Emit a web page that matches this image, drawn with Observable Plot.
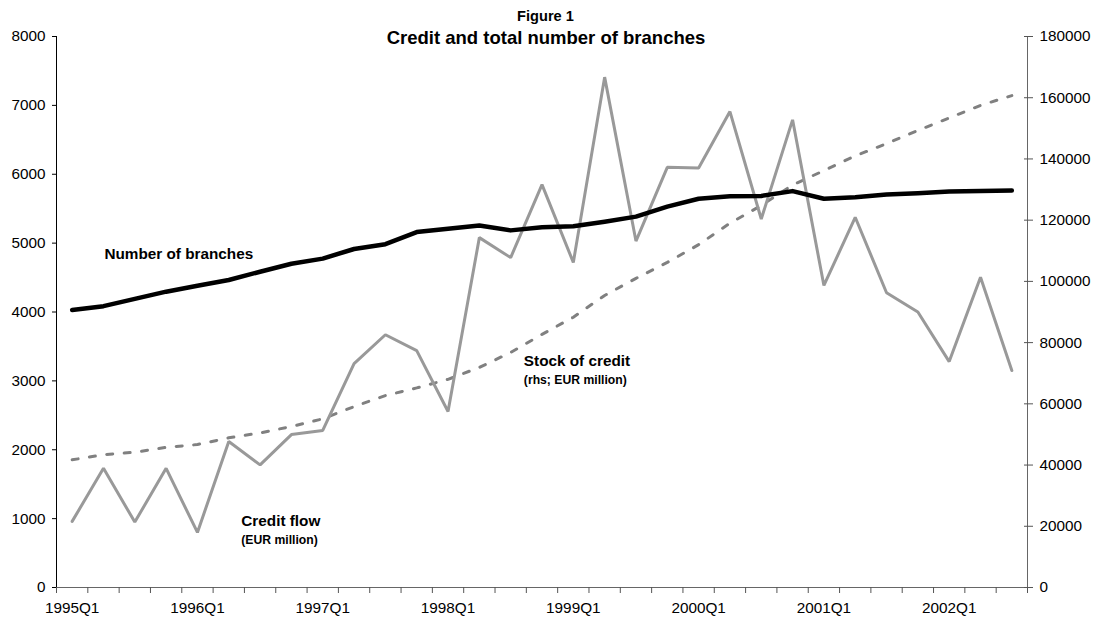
<!DOCTYPE html>
<html>
<head>
<meta charset="utf-8">
<script src="https://cdn.jsdelivr.net/npm/d3@7"></script>
<script src="https://cdn.jsdelivr.net/npm/@observablehq/plot@0.6"></script>
<style>
  html, body { margin: 0; padding: 0; background: #fff; }
  #wrap { position: relative; width: 1097px; height: 623px; font-family: "Liberation Sans", Arial, sans-serif; }
  .t1 { position: absolute; left: 0; width: 1091px; text-align: center; top: 7px; font-weight: bold; font-size: 14.6px; line-height: 18px; }
  .t2 { position: absolute; left: 0; width: 1092px; text-align: center; top: 27px; font-weight: bold; font-size: 18.5px; line-height: 22px; }
  svg { position: absolute; left: 0; top: 0; }
</style>
</head>
<body>
<div id="wrap">
  <div id="chart"></div>
  <div class="t1">Figure 1</div>
  <div class="t2">Credit and total number of branches</div>
</div>
<script>
const quarters = [
  "1995Q1","1995Q2","1995Q3","1995Q4","1996Q1","1996Q2","1996Q3","1996Q4",
  "1997Q1","1997Q2","1997Q3","1997Q4","1998Q1","1998Q2","1998Q3","1998Q4",
  "1999Q1","1999Q2","1999Q3","1999Q4","2000Q1","2000Q2","2000Q3","2000Q4",
  "2001Q1","2001Q2","2001Q3","2001Q4","2002Q1","2002Q2","2002Q3"
];
// Credit flow (EUR million, lhs)
const creditFlow = [960,1730,950,1730,800,2120,1780,2220,2280,3250,3670,3440,2555,5080,4790,5850,4720,7410,5030,6100,6090,6910,5350,6790,4385,5375,4280,4000,3280,4505,3150];
// Number of branches (lhs)
const branches = [4030,4085,4190,4295,4380,4465,4585,4700,4775,4915,4985,5160,5210,5255,5185,5230,5245,5310,5385,5530,5645,5680,5685,5755,5645,5665,5705,5725,5750,5755,5765];
// Stock of credit (EUR million, rhs)
const stockCredit = [41700,43400,44200,45800,46700,48900,50500,52600,55100,59100,62700,65200,68000,71900,76800,82700,88300,95400,101000,106200,112000,119000,124800,131500,136200,141000,145000,149300,153400,157500,160700];

const leftTicks = [0,1000,2000,3000,4000,5000,6000,7000,8000];
const rightTicks = [0,20000,40000,60000,80000,100000,120000,140000,160000,180000];
const labelQuarters = ["1995Q1","1996Q1","1997Q1","1998Q1","1999Q1","2000Q1","2001Q1","2002Q1"];

const leftMax = 8000, rightMax = 180000;
const ratio = rightMax / leftMax;

// annotation labels anchored in data space (x = quarter index, y = lhs value)
const labels = [
  {text: "Number of branches", x: 1.03, y: 4835, size: 15.3},
  {text: "Stock of credit", x: 14.42, y: 3284, size: 15.3},
  {text: "(rhs; EUR million)", x: 14.42, y: 3006, size: 12.2},
  {text: "Credit flow", x: 5.4, y: 966, size: 15.3},
  {text: "(EUR million)", x: 5.4, y: 690, size: 12.2}
];

const rows = quarters.map((q, i) => ({
  i, q,
  flow: creditFlow[i],
  branches: branches[i],
  stock: stockCredit[i] / ratio
}));

const n = quarters.length;
const xDomain = [-0.5, n - 0.5];
const boundaries = d3.range(n + 1).map(k => k - 0.5);
const labelIdx = labelQuarters.map(q => quarters.indexOf(q));

const chart = Plot.plot({
  width: 1097,
  height: 623,
  marginLeft: 56,
  marginRight: 70,
  marginTop: 36,
  marginBottom: 36,
  style: {fontFamily: "Liberation Sans, Arial, sans-serif", fontSize: "15.3px", color: "#000", background: "#fff"},
  x: {type: "linear", domain: xDomain},
  y: {domain: [0, leftMax]},
  marks: [
    // axis lines
    Plot.ruleX([xDomain[0]], {stroke: "#000", strokeWidth: 1}),
    Plot.ruleX([xDomain[1]], {stroke: "#666", strokeWidth: 1}),
    Plot.ruleY([0], {stroke: "#666", strokeWidth: 1}),
    // left axis
    Plot.axisY({anchor: "left", ticks: leftTicks, tickSize: 4, tickPadding: 7, tickFormat: d => String(d), label: null, stroke: "#000"}),
    // right axis (rhs values mapped onto lhs scale)
    Plot.axisY({anchor: "right", ticks: rightTicks.map(v => v / ratio), tickSize: 5, tickPadding: 7, tickFormat: d => String(Math.round(d * ratio)), label: null, stroke: "#555"}),
    Plot.axisY({anchor: "right", ticks: rightTicks.map(v => v / ratio), tickSize: -4, tickFormat: null, text: null, label: null, stroke: "#555"}),
    // bottom axis: ticks at category boundaries, labels at category centers
    Plot.axisX({anchor: "bottom", ticks: boundaries, tickSize: 6, tickFormat: () => "", label: null, stroke: "#555"}),
    Plot.axisX({anchor: "bottom", ticks: labelIdx, tickSize: 0, tickPadding: 15, tickFormat: d => quarters[Math.round(d)], label: null}),
    // series
    Plot.line(rows, {x: "i", y: "stock", stroke: "#808080", strokeWidth: 3, strokeDasharray: "6,11.5"}),
    Plot.line(rows, {x: "i", y: "flow", stroke: "#999999", strokeWidth: 3, strokeLinejoin: "miter"}),
    Plot.line(rows, {x: "i", y: "branches", stroke: "#000", strokeWidth: 4.5, strokeLinecap: "round"}),
    // annotations
    Plot.text(labels, {x: "x", y: "y", text: "text", fontSize: "size", fontWeight: "bold", textAnchor: "start", fill: "#000"})
  ]
});
document.getElementById("chart").appendChild(chart);
</script>
</body>
</html>
